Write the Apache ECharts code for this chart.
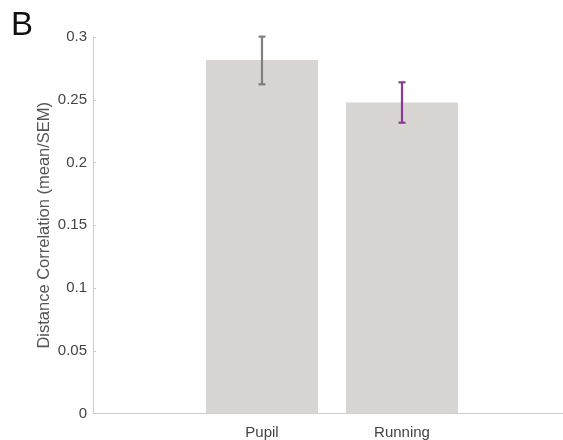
<!DOCTYPE html>
<html>
<head>
<meta charset="utf-8">
<script src="https://cdn.jsdelivr.net/npm/echarts@6/dist/echarts.min.js"></script>
<style>html,body{margin:0;padding:0;background:#fff}#c{width:563px;height:440px}</style>
</head>
<body>
<div id="c"></div>
<script>
const categories = ['Pupil', 'Running'];
const positions = [1, 2];
const means = [0.2817, 0.2478];
const errLow = [0.2623, 0.2317];
const errHigh = [0.3003, 0.2639];
const errColors = ['#7f7f7f', '#8b3a98'];
const yTicks = [0, 0.05, 0.1, 0.15, 0.2, 0.25, 0.3];

const chart = echarts.init(document.getElementById('c'), null, {renderer: 'canvas'});
const font = '"Liberation Sans", Arial, Helvetica, sans-serif';
chart.setOption({
  animation: false,
  title: {text: 'B', left: 6, top: 4, textStyle: {fontFamily: font, fontSize: 33, fontWeight: 'normal', color: '#111'}},
  grid: {left: 93, right: 0, top: 37, bottom: 26.5, containLabel: false, outerBoundsMode: 'none'},
  xAxis: {
    type: 'value', min: -0.207, max: 3.15,
    splitLine: {show: false},
    axisLine: {show: true, onZero: false, lineStyle: {color: '#cccccc', width: 1}},
    axisTick: {show: false},
    axisLabel: {
      customValues: positions, margin: 12,
      formatter: v => { const i = positions.indexOf(v); return i >= 0 ? categories[i] : ''; },
      fontFamily: font, fontSize: 15, color: '#444'
    }
  },
  yAxis: {
    type: 'value', min: 0, max: 0.3, interval: 0.05,
    name: 'Distance Correlation (mean/SEM)', nameLocation: 'middle', nameGap: 40, nameRotate: 90,
    nameMoveOverlap: false,
    nameTextStyle: {fontFamily: font, fontSize: 16.5, color: '#555'},
    splitLine: {show: false},
    axisLine: {show: true, onZero: false, lineStyle: {color: '#cccccc', width: 1}},
    axisTick: {show: true, inside: true, length: 3, lineStyle: {color: '#cccccc'}},
    axisLabel: {margin: 6, fontFamily: font, fontSize: 15, color: '#444',
      customValues: yTicks,
      formatter: v => String(+v.toFixed(2))}
  },
  series: [
    {
      type: 'bar', barWidth: 112,
      itemStyle: {color: '#d9d5d2'},
      data: positions.map((p, i) => [p, means[i]])
    },
    {
      type: 'custom',
      data: positions.map((p, i) => [p, errLow[i], errHigh[i], i]),
      renderItem: (params, api) => {
        const x = api.value(0);
        const lo = api.coord([x, api.value(1)]);
        const hi = api.coord([x, api.value(2)]);
        const c = errColors[api.value(3)];
        const hw = 3.5;
        const st = {stroke: c, lineWidth: 2.2};
        return {type: 'group', children: [
          {type: 'line', shape: {x1: lo[0], y1: lo[1], x2: hi[0], y2: hi[1]}, style: st},
          {type: 'line', shape: {x1: lo[0] - hw, y1: lo[1], x2: lo[0] + hw, y2: lo[1]}, style: st},
          {type: 'line', shape: {x1: hi[0] - hw, y1: hi[1], x2: hi[0] + hw, y2: hi[1]}, style: st}
        ]};
      },
      z: 5
    }
  ]
});
</script>
</body>
</html>
